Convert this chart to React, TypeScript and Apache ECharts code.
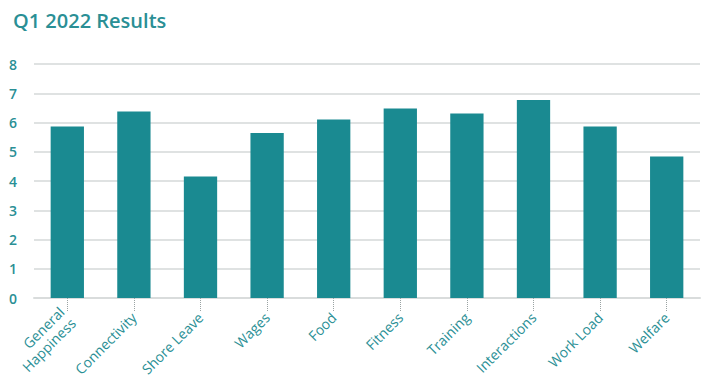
import React, { useEffect, useRef } from "react";
import * as echarts from "echarts";

const categories = [
  "General\nHappiness",
  "Connectivity",
  "Shore Leave",
  "Wages",
  "Food",
  "Fitness",
  "Training",
  "Interactions",
  "Work Load",
  "Welfare",
];
const scores = [5.86, 6.38, 4.15, 5.64, 6.1, 6.48, 6.31, 6.77, 5.86, 4.84];
const yTicks = { min: 0, max: 8, interval: 1 };
const title = "Q1 2022 Results";

const TEAL = "#1a8a91";
const TEXT = "#2a8f95";
const FONT = "'Open Sans', Lato, sans-serif";

export default function App() {
  const ref = useRef<HTMLDivElement>(null);
  useEffect(() => {
    if (!ref.current) return;
    const chart = echarts.init(ref.current, null, { renderer: "svg" });
    chart.setOption({
      animation: false,
      backgroundColor: "#ffffff",
      title: {
        text: title,
        left: 8,
        top: 5,
        textStyle: { color: TEXT, fontSize: 20, fontWeight: 600, fontFamily: FONT },
      },
      grid: { left: 34, right: 11, top: 64, bottom: 88, containLabel: false },
      xAxis: {
        type: "category",
        data: categories,
        axisLine: { show: true, lineStyle: { color: "#d9dcdc", width: 2 } },
        axisTick: {
          show: true,
          alignWithLabel: true,
          length: 13,
          lineStyle: { color: "#9aa3a3", type: "dotted", width: 1 },
        },
        axisLabel: {
          rotate: 45,
          interval: 0,
          margin: 17,
          color: TEXT,
          fontSize: 14,
          fontFamily: FONT,
          lineHeight: 16,
          align: "right",
        },
      },
      yAxis: {
        type: "value",
        min: yTicks.min,
        max: yTicks.max,
        interval: yTicks.interval,
        axisLine: { show: false },
        axisTick: { show: false },
        splitLine: { lineStyle: { color: "#dfe2e2", width: 2 } },
        axisLabel: {
          color: TEXT,
          fontSize: 14,
          fontWeight: 600,
          fontFamily: FONT,
          margin: 17,
        },
      },
      series: [
        {
          type: "bar",
          data: scores,
          barWidth: "50%",
          itemStyle: { color: TEAL },
        },
      ],
    });
    return () => chart.dispose();
  }, []);
  return (
    <div
      ref={ref}
      style={{ position: "fixed", left: 0, top: 0, width: 711, height: 386 }}
    />
  );
}
